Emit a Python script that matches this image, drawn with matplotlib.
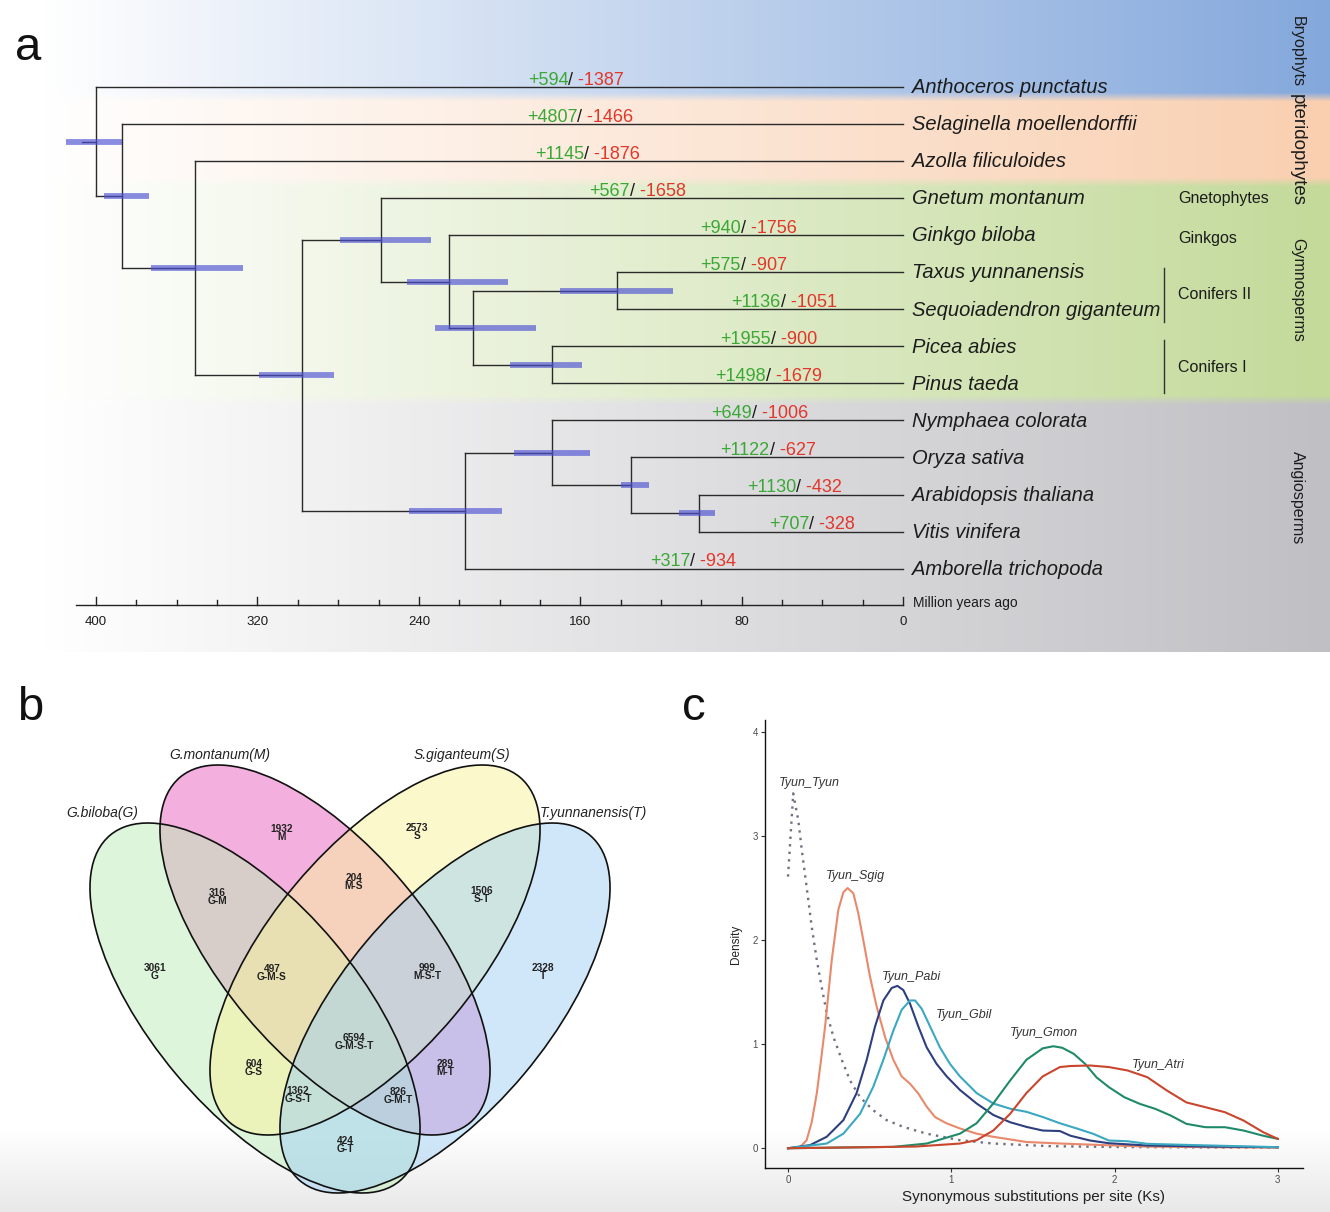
import numpy as np
import matplotlib.pyplot as plt
from matplotlib.patches import Ellipse

plt.rcParams['font.family'] = ['Liberation Sans', 'DejaVu Sans']

W, H = 1330, 1212

# ---------------- a: dated phylogeny ----------------
species = ['Anthoceros punctatus', 'Selaginella moellendorffii', 'Azolla filiculoides',
           'Gnetum montanum', 'Ginkgo biloba', 'Taxus yunnanensis',
           'Sequoiadendron giganteum', 'Picea abies', 'Pinus taeda',
           'Nymphaea colorata', 'Oryza sativa', 'Arabidopsis thaliana',
           'Vitis vinifera', 'Amborella trichopoda']
gains = [594, 4807, 1145, 567, 940, 575, 1136, 1955, 1498, 649, 1122, 1130, 707, 317]
losses = [1387, 1466, 1876, 1658, 1756, 907, 1051, 900, 1679, 1006, 627, 432, 328, 934]

# internal nodes: children (tip index or node name), age in Ma, 95% interval
node_children = {
    'root': [0, 'n2'], 'n2': [1, 'n3'], 'n3': [2, 'n4'], 'n4': ['n5', 'n10'],
    'n5': [3, 'n6'], 'n6': [4, 'n7'], 'n7': ['n8', 'n9'], 'n8': [5, 6], 'n9': [7, 8],
    'n10': ['n11', 13], 'n11': [9, 'n12'], 'n12': [10, 'n13'], 'n13': [11, 12],
}
node_age = {'root': 400, 'n2': 387, 'n3': 351, 'n4': 298, 'n5': 259, 'n6': 225,
            'n7': 213, 'n8': 142, 'n9': 174, 'n10': 217, 'n11': 174, 'n12': 135,
            'n13': 101}
node_ci = {'root': (387, 415), 'n2': (374, 396), 'n3': (327, 373), 'n4': (282, 319),
           'n5': (234, 279), 'n6': (196, 246), 'n7': (182, 232), 'n8': (114, 170),
           'n9': (159, 195), 'n10': (199, 245), 'n11': (155, 193), 'n12': (126, 140),
           'n13': (93, 111)}

clades = ['Bryophyts', 'pteridophytes', 'Gymnosperms', 'Angiosperms']
clade_colors = ['#84a8dc', '#f9cfb0', '#c3da9a', '#c0c0c4']
subgroups = ['Gnetophytes', 'Ginkgos', 'Conifers II', 'Conifers I']
time_ticks = [400, 320, 240, 160, 80, 0]

# layout for panel a (tip-index units / Ma)
band_edges = [-2.348, 0.27, 2.56, 8.45, 15.25]
gl_x = [186, 186.5, 182.5, 155.5, 100.5, 100.5, 85, 90.5, 93, 95, 90.5, 77.5, 66.5, 125.5]
clade_y = [-0.945, 1.70, 5.48, 11.07]
sub_y = [3.0, 4.08, 5.61, 7.58]
brackets = [(4.89, 6.34), (6.83, 8.26)]

green, red, ink = '#3aa835', '#e2362a', '#1c1c1c'

fig = plt.figure(figsize=(W / 100, H / 100), dpi=100)

# soft grey fade at the bottom of the whole figure
bg = fig.add_axes([0, 0, 1, 1], zorder=-10)
fade = np.ones((H, 1, 3))
rows = np.arange(H)
k = np.clip((rows - 1130) / 82.0, 0, 1)
fade[:, 0, :] = (1 - 0.09 * k)[:, None]
bg.imshow(fade, extent=(0, W, H, 0), aspect='auto')
bg.set_xlim(0, W)
bg.set_ylim(H, 0)
bg.axis('off')

ax = fig.add_axes([42 / W, 1 - 652 / H, 1288 / W, 652 / H])
xlim = (426.8, -211.6)
ylim = (15.25, -2.348)

# background bands with a white -> colour gradient
nr, nc = 652, 1288
yy = ylim[1] + (np.arange(nr) + 0.5) / nr * (ylim[0] - ylim[1])
band_rgb = np.array([plt.matplotlib.colors.to_rgb(c) for c in clade_colors])
idx = np.clip(np.searchsorted(band_edges, yy) - 1, 0, 3)
rowcol = band_rgb[idx]
kern = np.ones(9) / 9
rowcol = np.stack([np.convolve(np.pad(rowcol[:, j], 4, mode='edge'), kern, 'valid')
                   for j in range(3)], axis=1)
t = np.linspace(0, 1, nc)[None, :, None]
img = 1 - t * (1 - rowcol[:, None, :])
ax.imshow(img, extent=(xlim[0], xlim[1], ylim[0], ylim[1]), aspect='auto', zorder=0)


def ypos(c):
    if isinstance(c, int):
        return c
    return np.mean([ypos(q) for q in node_children[c]])


def age(c):
    return 0 if isinstance(c, int) else node_age[c]


lc = '#2a2a2a'
for n, kids in node_children.items():
    ys = [ypos(q) for q in kids]
    ax.plot([node_age[n]] * 2, [min(ys), max(ys)], color=lc, lw=1.0, zorder=2)
    for q in kids:
        ax.plot([node_age[n], age(q)], [ypos(q)] * 2, color=lc, lw=1.0, zorder=2)
ax.plot([407, node_age['root']], [ypos('root')] * 2, color=lc, lw=1.0, zorder=2)

for n, (lo, hi) in node_ci.items():
    ax.plot([lo, hi], [ypos(n)] * 2, color='#4b50d2', alpha=0.65, lw=4.2,
            solid_capstyle='butt', zorder=3)

for i, name in enumerate(species):
    ax.text(-4.5, i + 0.02, name, fontsize=14.5, style='italic', color=ink,
            ha='left', va='center', zorder=4)
    t1 = ax.text(gl_x[i], i - 0.06, f'+{gains[i]}', fontsize=13, color=green,
                 ha='left', va='baseline', zorder=4)
    t2 = ax.annotate('/', xy=(1, 0), xycoords=t1, fontsize=13, color=ink,
                     ha='left', va='bottom', zorder=4)
    ax.annotate(f' -{losses[i]}', xy=(1, 0), xycoords=t2, fontsize=13, color=red,
                ha='left', va='bottom', zorder=4)

for name, y in zip(subgroups, sub_y):
    ax.text(-136.5, y, name, fontsize=11.5, color=ink, ha='left', va='center', zorder=4)
for lo, hi in brackets:
    ax.plot([-129.4, -129.4], [lo, hi], color='#333333', lw=1.0, zorder=4)
for name, y in zip(clades, clade_y):
    ax.text(-195.5, y, name, fontsize=13.5 if name == 'pteridophytes' else 11.5,
            color=ink, rotation=-90, ha='center', va='center', zorder=4)

# time axis
axis_y = 13.98
ax.plot([410, 0], [axis_y, axis_y], color='#222222', lw=1.0, zorder=4)
for a in range(0, 401, 20):
    ln = 0.215 if a % 80 == 0 else 0.13
    ax.plot([a, a], [axis_y, axis_y - ln], color='#222222', lw=1.0, zorder=4)
for a in time_ticks:
    ax.text(a, 14.44, str(a), fontsize=9.5, color=ink, ha='center', va='center', zorder=4)
ax.text(-5, 13.93, 'Million years ago', fontsize=10, color=ink, ha='left',
        va='center', zorder=4)

ax.set_xlim(*xlim)
ax.set_ylim(*ylim)
ax.axis('off')

# ---------------- b: Venn diagram ----------------
set_names = ['G.biloba(G)', 'G.montanum(M)', 'S.giganteum(S)', 'T.yunnanensis(T)']
set_colors = ['#bdedb9', '#e961bd', '#f9f39b', '#a1d1f5']
region_names = ['G', 'M', 'S', 'T', 'G-M', 'M-S', 'S-T', 'G-M-S', 'M-S-T', 'G-S',
                'M-T', 'G-S-T', 'G-M-T', 'G-T', 'G-M-S-T']
region_counts = [3061, 1932, 2573, 2328, 316, 204, 1506, 497, 999, 604, 289, 1362,
                 826, 424, 6594]

# layout of the four-ellipse Venn (canvas units, y up)
ell_centers = [(255, -1008), (325, -950), (375, -950), (445, -1008)]
ell_angles = [130, 130, 50, 50]
ell_w, ell_h = 451, 206
fill_order = [1, 0, 2, 3]
region_pos = [(155, -972), (282, -833), (417, -832), (543, -972), (217, -897),
              (354, -882), (482, -895), (272, -973), (427, -972), (254, -1068),
              (445, -1068), (298, -1095), (398, -1096), (345, -1145), (354, -1042)]
name_pos = [(102, -813), (220, -755), (462, -755), (593, -813)]

axb = fig.add_axes([50 / W, 1 - 1205 / H, 620 / W, 470 / H])
axb.patch.set_alpha(0)
for j in fill_order:
    axb.add_patch(Ellipse(ell_centers[j], ell_w, ell_h, angle=ell_angles[j],
                          facecolor=set_colors[j], alpha=0.5, edgecolor='none'))
for c, ang in zip(ell_centers, ell_angles):
    axb.add_patch(Ellipse(c, ell_w, ell_h, angle=ang, facecolor='none',
                          edgecolor='#111111', lw=1.2))
for (x, y), n, r in zip(region_pos, region_counts, region_names):
    axb.text(x, y, f'{n}\n{r}', fontsize=7.3, fontweight='bold', color='#222222',
             ha='center', va='center', linespacing=0.8)
for (x, y), s in zip(name_pos, set_names):
    axb.text(x, y, s, fontsize=10, style='italic', color='#222222',
             ha='center', va='center')
axb.set_xlim(50, 670)
axb.set_ylim(-1205, -735)
axb.axis('off')

# ---------------- c: Ks distributions ----------------
tyun_x = [0, 0.032, 0.063, 0.084, 0.114, 0.145, 0.176, 0.206, 0.237, 0.278, 0.329,
          0.38, 0.441, 0.522, 0.604, 0.706, 0.849, 1.053, 1.257, 1.6, 2.0, 2.5, 3.0]
tyun_y = [2.61, 3.41, 3.15, 2.87, 2.51, 2.13, 1.81, 1.55, 1.30, 1.07, 0.85, 0.65,
          0.49, 0.365, 0.27, 0.205, 0.14, 0.077, 0.045, 0.02, 0.012, 0.008, 0.005]
sgig_x = [0, 0.07, 0.114, 0.145, 0.176, 0.2, 0.227, 0.268, 0.308, 0.339, 0.365, 0.4,
          0.43, 0.461, 0.502, 0.543, 0.594, 0.645, 0.696, 0.747, 0.798, 0.849, 0.9,
          0.97, 1.053, 1.155, 1.257, 1.46, 1.67, 2.2, 3.0]
sgig_y = [0, 0.005, 0.077, 0.25, 0.526, 0.82, 1.17, 1.81, 2.29, 2.46, 2.50, 2.45,
          2.26, 2.0, 1.65, 1.36, 1.07, 0.85, 0.69, 0.62, 0.526, 0.40, 0.30, 0.24,
          0.19, 0.14, 0.11, 0.06, 0.045, 0.015, 0.005]
pabi_x = [0, 0.135, 0.237, 0.339, 0.42, 0.482, 0.533, 0.584, 0.635, 0.67, 0.706,
          0.747, 0.798, 0.849, 0.91, 0.972, 1.053, 1.155, 1.257, 1.36, 1.46, 1.56,
          1.665, 1.73, 1.85, 1.965, 2.2, 2.56, 3.0]
pabi_y = [0, 0.03, 0.11, 0.27, 0.53, 0.85, 1.17, 1.42, 1.54, 1.56, 1.52, 1.39, 1.17,
          0.97, 0.81, 0.69, 0.56, 0.43, 0.32, 0.25, 0.205, 0.17, 0.165, 0.12, 0.074,
          0.048, 0.026, 0.016, 0.01]
gbil_x = [0, 0.237, 0.339, 0.441, 0.522, 0.584, 0.645, 0.696, 0.747, 0.778, 0.819,
          0.87, 0.93, 0.992, 1.053, 1.155, 1.257, 1.36, 1.46, 1.56, 1.665, 1.776,
          1.87, 1.965, 2.08, 2.2, 2.44, 3.0]
gbil_y = [0, 0.045, 0.14, 0.33, 0.59, 0.85, 1.13, 1.33, 1.42, 1.42, 1.34, 1.17, 0.97,
          0.81, 0.69, 0.53, 0.43, 0.38, 0.35, 0.30, 0.24, 0.186, 0.138, 0.074, 0.067,
          0.042, 0.032, 0.01]
gmon_x = [0, 0.645, 0.849, 1.053, 1.155, 1.257, 1.36, 1.46, 1.56, 1.625, 1.68, 1.75,
          1.82, 1.89, 1.965, 2.06, 2.155, 2.25, 2.344, 2.44, 2.557, 2.676, 2.79,
          2.91, 3.0]
gmon_y = [0, 0.013, 0.045, 0.14, 0.24, 0.43, 0.65, 0.85, 0.96, 0.98, 0.965, 0.907,
          0.81, 0.68, 0.587, 0.49, 0.426, 0.378, 0.314, 0.234, 0.202, 0.202, 0.17,
          0.12, 0.09]
atri_x = [0, 0.78, 1.053, 1.155, 1.257, 1.36, 1.46, 1.56, 1.665, 1.73, 1.85, 1.965,
          2.08, 2.2, 2.32, 2.44, 2.557, 2.676, 2.79, 2.91, 3.0]
atri_y = [0, 0.016, 0.045, 0.077, 0.17, 0.33, 0.53, 0.69, 0.78, 0.79, 0.795, 0.78,
          0.747, 0.683, 0.555, 0.44, 0.394, 0.346, 0.266, 0.154, 0.09]
pair_names = ['Tyun_Tyun', 'Tyun_Sgig', 'Tyun_Pabi', 'Tyun_Gbil', 'Tyun_Gmon',
              'Tyun_Atri']
pair_colors = ['#707080', '#e8896b', '#2e3f7f', '#3aa8c1', '#1f8a6a', '#c9462d']
pair_label_pos = [(0.13, 3.51), (0.414, 2.62), (0.753, 1.65), (1.077, 1.285),
                  (1.57, 1.105), (2.27, 0.80)]

axc = fig.add_axes([765 / W, 1 - 1168 / H, 538 / W, 448 / H])
axc.patch.set_alpha(0)
series = [(tyun_x, tyun_y), (sgig_x, sgig_y), (pabi_x, pabi_y), (gbil_x, gbil_y),
          (gmon_x, gmon_y), (atri_x, atri_y)]
for (xs, ys), col, nm in zip(series, pair_colors, pair_names):
    if nm == 'Tyun_Tyun':
        axc.plot(xs, ys, color=col, lw=1.7, linestyle=(0, (1, 2.2)))
    else:
        axc.plot(xs, ys, color=col, lw=1.5)
for (x, y), nm in zip(pair_label_pos, pair_names):
    axc.text(x, y, nm, fontsize=9, style='italic', color='#333333',
             ha='center', va='center')
axc.set_xlim(-0.141, 3.154)
axc.set_ylim(-0.19, 4.115)
axc.set_xticks([0, 1, 2, 3])
axc.set_yticks([0, 1, 2, 3, 4])
for s in ['top', 'right']:
    axc.spines[s].set_visible(False)
for s in ['left', 'bottom']:
    axc.spines[s].set_linewidth(1.0)
    axc.spines[s].set_color('#111111')
axc.tick_params(length=3, width=0.8, color='#333333', labelsize=7,
                labelcolor='#4d4d4d', pad=2)
axc.set_xlabel('Synonymous substitutions per site (Ks)', fontsize=11, color='#222222',
               labelpad=4)
axc.set_ylabel('Density', fontsize=8.5, color='#222222', labelpad=8)

# panel letters
fig.text(28 / W, 1 - 48 / H, 'a', fontsize=34, ha='center', va='center', color='#111111')
fig.text(30 / W, 1 - 708 / H, 'b', fontsize=34, ha='center', va='center', color='#111111')
fig.text(694 / W, 1 - 708 / H, 'c', fontsize=34, ha='center', va='center', color='#111111')

fig.savefig('out.png', dpi=100)
